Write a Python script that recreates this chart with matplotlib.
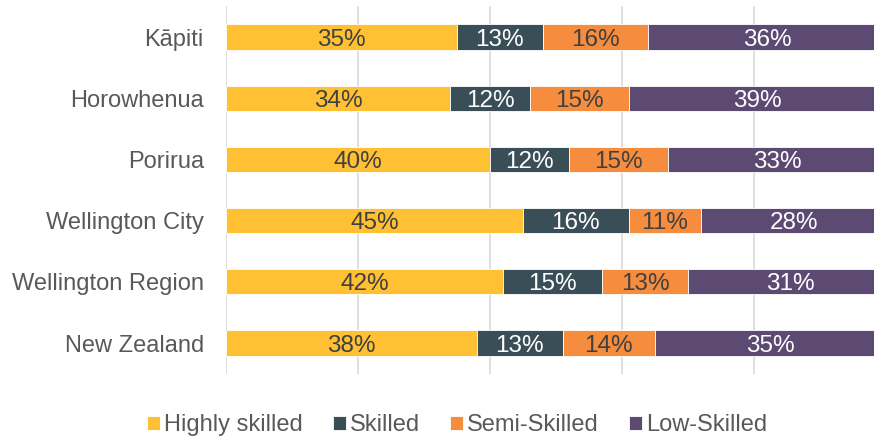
import matplotlib
matplotlib.use("Agg")
import matplotlib.pyplot as plt
import numpy as np

plt.rcParams["font.family"] = ["Liberation Sans", "DejaVu Sans"]

regions = ["Kāpiti", "Horowhenua", "Porirua", "Wellington City",
           "Wellington Region", "New Zealand"]
series = ["Highly skilled", "Skilled", "Semi-Skilled", "Low-Skilled"]
highly_skilled = [35, 34, 40, 45, 42, 38]
skilled = [13, 12, 12, 16, 15, 13]
semi_skilled = [16, 15, 15, 11, 13, 14]
low_skilled = [36, 39, 33, 28, 31, 35]

colors = ["#FFC133", "#3A4E58", "#F68C3E", "#5D4A73"]
text_colors = ["#404040", "white", "#404040", "white"]

fig = plt.figure(figsize=(8.74, 4.38), dpi=100)
ax = fig.add_axes([226 / 874, 1 - 373.6 / 438, 660 / 874, 367.2 / 438])

y = np.arange(len(regions))
left = np.zeros(len(regions))
for vals, name, col, tcol in zip(
        [highly_skilled, skilled, semi_skilled, low_skilled],
        series, colors, text_colors):
    vals = np.array(vals, dtype=float)
    ax.barh(y, vals, left=left, height=0.41, color=col,
            edgecolor="white", linewidth=0.6, label=name, zorder=3)
    # value labels, centred in each segment
    for yi, l, v in zip(y, left, vals):
        ax.text(l + v / 2, yi, f"{v:.0f}%", ha="center",
                va="center_baseline", color=tcol, fontsize=17.5, zorder=4)
    left += vals

ax.set_xlim(0, 100)
ax.set_ylim(len(regions) - 0.5, -0.5)
ax.set_yticks(y)
ax.set_yticklabels(regions, fontsize=17, color="#595959")
ax.set_xticks(np.arange(0, 101, 20))
ax.tick_params(axis="x", length=0, labelbottom=False)
ax.tick_params(axis="y", length=0, pad=16)
ax.grid(axis="x", color="#D9D9D9", linewidth=1.2, zorder=0)
for s in ax.spines.values():
    s.set_visible(False)

fig.legend(loc="center", bbox_to_anchor=(0.523, 1 - 425 / 438), ncol=4,
           frameon=False, fontsize=17, labelcolor="#595959",
           handlelength=0.55, handleheight=0.55, handletextpad=0.15,
           columnspacing=1.3)

fig.savefig("out.png", dpi=100)
